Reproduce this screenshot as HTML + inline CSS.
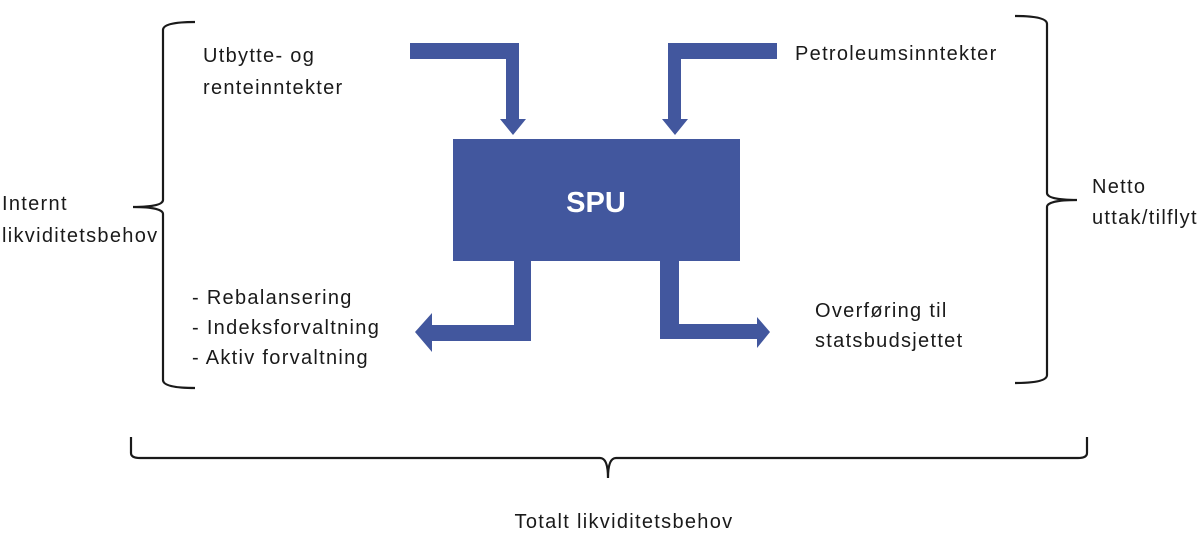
<!DOCTYPE html>
<html><head><meta charset="utf-8"><style>
html,body{margin:0;padding:0;background:#fff;}
svg{display:block}
text{font-family:"Liberation Sans","DejaVu Sans",sans-serif;font-size:20px;letter-spacing:1.3px;fill:#1a1a1a}
</style></head><body>
<svg width="1200" height="549" viewBox="0 0 1200 549" xmlns="http://www.w3.org/2000/svg">
<g fill="#42579e">
<polygon points="410,43 519,43 519,119 526,119 513,135 500,119 506,119 506,59 410,59"/>
<polygon points="777,43 668,43 668,119 662,119 675,135 688,119 681,119 681,59 777,59"/>
<rect x="453" y="139" width="287" height="122"/>
<polygon points="514,261 531,261 531,341 432,341 432,352 415,332 432,313 432,325 514,325"/>
<polygon points="660,261 679,261 679,324 757,324 757,317 770,332 757,348 757,339 660,339"/>
</g>
<text x="596" y="212" text-anchor="middle" style="font-size:29px;font-weight:bold;fill:#fff;letter-spacing:0">SPU</text>
<g fill="none" stroke="#1a1a1a" stroke-width="2.2">
<path d="M195,22 Q163,22 163,30 L163,200 Q163,207 133,207 Q163,207 163,214 L163,380 Q163,388 195,388"/>
<path d="M1015,16 Q1047,16 1047,24 L1047,193 Q1047,200 1077,200 Q1047,200 1047,207 L1047,375 Q1047,383 1015,383"/>
<path d="M131,437 L131,453 Q131,458 140,458 L600,458 Q608,458 608,478 Q608,458 616,458 L1078,458 Q1087,458 1087,453 L1087,437"/>
</g>
<text x="203" y="62">Utbytte- og</text>
<text x="203" y="94">renteinntekter</text>
<text x="795" y="60">Petroleumsinntekter</text>
<text x="2" y="210">Internt</text>
<text x="2" y="242">likviditetsbehov</text>
<text x="1092" y="193">Netto</text>
<text x="1092" y="224">uttak/tilflyt</text>
<text x="192" y="304">- Rebalansering</text>
<text x="192" y="334">- Indeksforvaltning</text>
<text x="192" y="364">- Aktiv forvaltning</text>
<text x="815" y="317">Overføring til</text>
<text x="815" y="347">statsbudsjettet</text>
<text x="624" y="528" text-anchor="middle">Totalt likviditetsbehov</text>
</svg>
</body></html>
